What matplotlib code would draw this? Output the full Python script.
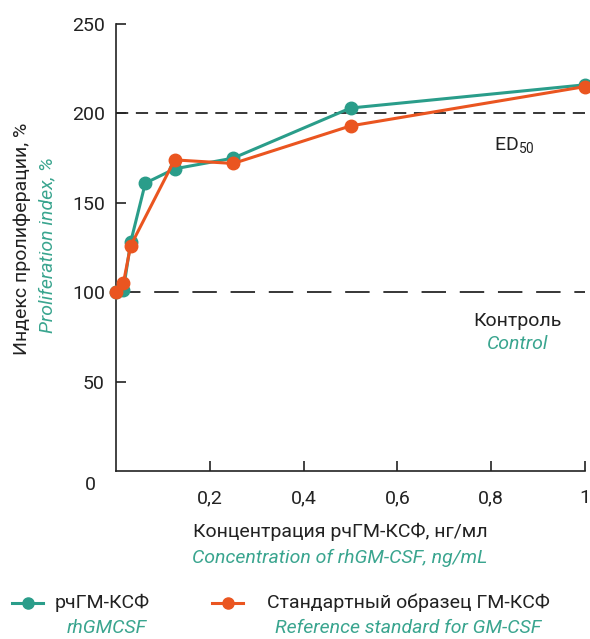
import matplotlib
matplotlib.use("Agg")
import matplotlib.pyplot as plt
from matplotlib.lines import Line2D

plt.rcParams['font.family'] = ['Roboto', 'DejaVu Sans']
plt.rcParams['mathtext.fontset'] = 'custom'
plt.rcParams['mathtext.rm'] = 'Roboto'

conc_teal = [0, 0.015625, 0.03125, 0.0625, 0.125, 0.25, 0.5, 1.0]
index_teal = [100, 101, 128, 161, 169, 175, 203, 216]
conc_orange = [0, 0.015625, 0.03125, 0.125, 0.25, 0.5, 1.0]
index_orange = [100, 105, 126, 174, 172, 193, 215]
xticks = [0.2, 0.4, 0.6, 0.8, 1.0]
xticklabels = ['0,2', '0,4', '0,6', '0,8', '1']
yticks = [50, 100, 150, 200, 250]

TEAL = '#2a9d8a'
ORANGE = '#ea5520'
TEXT_TEAL = '#3aa58f'
DARK = '#222222'
FS = 14

fig = plt.figure(figsize=(5.9, 6.39), dpi=100)
ax = fig.add_axes([116/590, 1-471/639, (585-116)/590, (471-24)/639])
ax.set_xlim(0, 1.0)
ax.set_ylim(0, 250)

ax.axhline(200, color='black', lw=1.1, dashes=(8, 5), zorder=1)
ax.axhline(100, color='black', lw=1.1, dashes=(16, 9), zorder=1)

ax.plot(conc_teal, index_teal, color=TEAL, lw=2.2, marker='o', ms=9, zorder=3, clip_on=False)
ax.plot(conc_orange, index_orange, color=ORANGE, lw=2.2, marker='o', ms=9, zorder=4, clip_on=False)

for s in ['top', 'right']:
    ax.spines[s].set_visible(False)
for s in ['left', 'bottom']:
    ax.spines[s].set_linewidth(1.2)
    ax.spines[s].set_color(DARK)

ax.set_xticks(xticks)
ax.set_xticklabels(xticklabels)
ax.set_yticks(yticks)
ax.tick_params(axis='both', direction='in', length=7, width=1.2, colors=DARK, labelsize=FS)
ax.tick_params(axis='x', pad=13)
ax.tick_params(axis='y', pad=8)
ax.text(-0.055, -8, '0', transform=ax.transData, ha='center', va='center', fontsize=FS, color=DARK)

ax.text(0.85, 182, 'ED$_{\\mathregular{50}}$', ha='center', va='center', fontsize=FS, color=DARK)
ax.text(0.857, 84, 'Контроль', ha='center', va='center', fontsize=FS, color=DARK)
ax.text(0.857, 71, 'Control', ha='center', va='center', fontsize=FS, color=TEXT_TEAL, style='italic')

fig.text(340/590, 1-532/639, 'Концентрация рчГМ-КСФ, нг/мл', ha='center', va='center', fontsize=FS, color=DARK)
fig.text(340/590, 1-558/639, 'Concentration of rhGM-CSF, ng/mL', ha='center', va='center', fontsize=FS, color=TEXT_TEAL, style='italic')

fig.text(22/590, 1-239/639, 'Индекс пролиферации, %', rotation=90, ha='center', va='center', fontsize=FS, color=DARK)
fig.text(47/590, 1-245/639, 'Proliferation index, %', rotation=90, ha='center', va='center', fontsize=FS, color=TEXT_TEAL, style='italic')

# legend
ly = 1-603/639
ly2 = 1-628/639
fig.add_artist(Line2D([12/590, 43/590], [ly, ly], color=TEAL, lw=2.2))
fig.add_artist(Line2D([28/590], [ly], color=TEAL, marker='o', ms=8, lw=0))
fig.text(55/590, ly, 'рчГМ-КСФ', ha='left', va='center', fontsize=FS, color=DARK)
fig.text(107/590, ly2, 'rhGMCSF', ha='center', va='center', fontsize=FS, color=TEXT_TEAL, style='italic')

fig.add_artist(Line2D([212/590, 243/590], [ly, ly], color=ORANGE, lw=2.2))
fig.add_artist(Line2D([228/590], [ly], color=ORANGE, marker='o', ms=8, lw=0))
fig.text(267/590, ly, 'Стандартный образец ГМ-КСФ', ha='left', va='center', fontsize=FS, color=DARK)
fig.text(408/590, ly2, 'Reference standard for GM-CSF', ha='center', va='center', fontsize=FS, color=TEXT_TEAL, style='italic')

fig.savefig('out.png', dpi=100)
